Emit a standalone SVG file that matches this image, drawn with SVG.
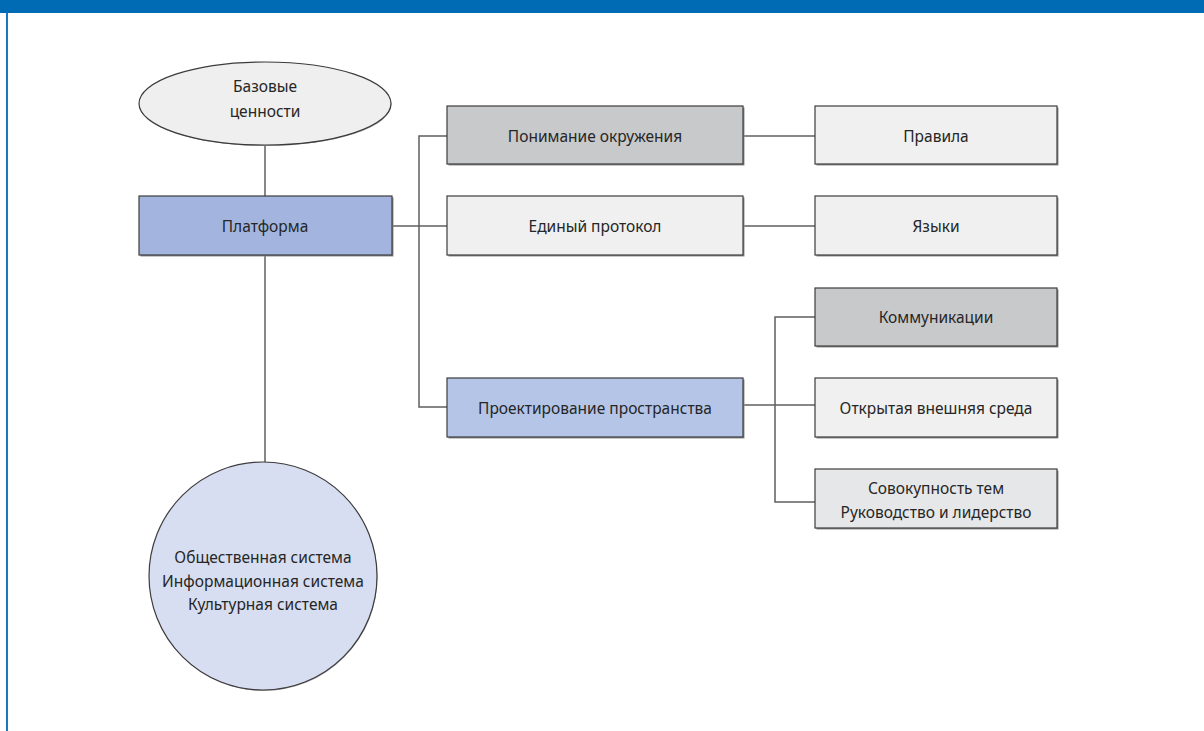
<svg xmlns="http://www.w3.org/2000/svg" width="1204" height="731" viewBox="0 0 1204 731">
<style>
text{font-family:"Noto Sans","Liberation Sans",sans-serif;font-size:15.5px;fill:#262626;text-anchor:middle;dominant-baseline:central}
.box{stroke:#3c3c3c;stroke-width:1.2}
.sh{fill:#8f8f8f}
.con{fill:none;stroke:#5f5f5f;stroke-width:1.5}
</style>
<rect x="0" y="0" width="1204" height="13" fill="#006bb5"/>
<rect x="6" y="13" width="2" height="718" fill="#1a78bd"/>
<g id="connectors">
<line class="con" x1="265" y1="146" x2="265" y2="196"/>
<line class="con" x1="265" y1="256" x2="265" y2="462"/>
<line class="con" x1="392" y1="226" x2="447" y2="226"/>
<polyline class="con" points="447,136 419,136 419,407 447,407"/>
<line class="con" x1="743" y1="136" x2="815" y2="136"/>
<line class="con" x1="743" y1="226" x2="815" y2="226"/>
<line class="con" x1="743" y1="405" x2="815" y2="405"/>
<polyline class="con" points="815,317 775,317 775,502 815,502"/>
</g>
<g id="n-base"><ellipse cx="265.5" cy="104.5" rx="126" ry="41.5" fill="#a0a0a0"/><ellipse class="box" cx="265" cy="103.5" rx="126" ry="41.5" fill="#efefef"/><text x="265" y="86">Базовые</text><text x="265" y="111">ценности</text></g>
<g id="n-platform"><rect class="sh" x="140.5" y="197.5" width="253" height="59"/><rect class="box" x="139" y="196" width="253" height="59" fill="#a3b5de"/><text x="265" y="226">Платформа</text></g>
<g id="n-systems"><circle cx="263.5" cy="577" r="114" fill="#a0a0a0"/><circle class="box" cx="263" cy="576" r="114" fill="#d7def1"/><text x="263" y="557">Общественная система</text><text x="263" y="581">Информационная система</text><text x="263" y="604">Культурная система</text></g>
<g id="n-ponimanie"><rect class="sh" x="448.5" y="107.5" width="296" height="58"/><rect class="box" x="447" y="106" width="296" height="58" fill="#c8c9cb"/><text x="595" y="136">Понимание окружения</text></g>
<g id="n-protocol"><rect class="sh" x="448.5" y="197.5" width="296" height="59"/><rect class="box" x="447" y="196" width="296" height="59" fill="#f0f0f0"/><text x="595" y="226">Единый протокол</text></g>
<g id="n-proekt"><rect class="sh" x="448.5" y="379.5" width="296" height="59"/><rect class="box" x="447" y="378" width="296" height="59" fill="#b4c5e8"/><text x="595" y="408">Проектирование пространства</text></g>
<g id="n-pravila"><rect class="sh" x="816.5" y="107.5" width="242" height="58"/><rect class="box" x="815" y="106" width="242" height="58" fill="#f0f0f0"/><text x="936" y="136">Правила</text></g>
<g id="n-yazyki"><rect class="sh" x="816.5" y="197.5" width="242" height="59"/><rect class="box" x="815" y="196" width="242" height="59" fill="#f0f0f0"/><text x="936" y="226">Языки</text></g>
<g id="n-komm"><rect class="sh" x="816.5" y="289.5" width="242" height="58"/><rect class="box" x="815" y="288" width="242" height="58" fill="#c8c9cb"/><text x="936" y="317">Коммуникации</text></g>
<g id="n-open"><rect class="sh" x="816.5" y="379.5" width="242" height="59"/><rect class="box" x="815" y="378" width="242" height="59" fill="#f0f0f0"/><text x="936" y="408">Открытая внешняя среда</text></g>
<g id="n-sovok"><rect class="sh" x="816.5" y="470.5" width="242" height="59"/><rect class="box" x="815" y="469" width="242" height="59" fill="#e6e7e9"/><text x="936" y="488">Совокупность тем</text><text x="936" y="512">Руководство и лидерство</text></g>
</svg>
